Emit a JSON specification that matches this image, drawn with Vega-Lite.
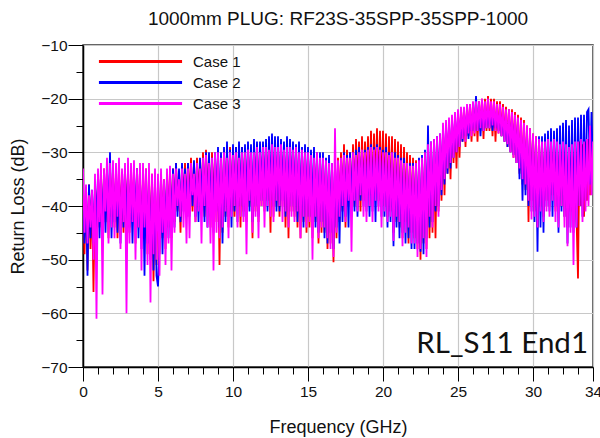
{
"$schema":"https://vega.github.io/schema/vega-lite/v6.json",
"width":510,"height":322,
"autosize":{"type":"none"},
"padding":{"left":83,"top":45,"right":7,"bottom":71},
"background":"white",
"title":{"text":"1000mm PLUG: RF23S-35SPP-35SPP-1000","fontSize":19,"font":"Liberation Sans","fontWeight":"normal","color":"#111","anchor":"middle","frame":"group","offset":9},
"config":{"view":{"stroke":"#333","strokeWidth":1.5},"font":"Liberation Sans"},
"resolve":{"axis":{"x":"independent","y":"independent"}},
"layer":[
{"data":{"values":[
{"f":0,"a":-36,"b":-38,"c":-33},{"f":0.1,"a":-49,"b":-47,"c":-45},{"f":0.2,"a":-37,"b":-37,"c":-36},{"f":0.3,"a":-52,"b":-53,"c":-47},{"f":0.4,"a":-36,"b":-36,"c":-38},{"f":0.5,"a":-48,"b":-46,"c":-44},{"f":0.6,"a":-37,"b":-37,"c":-37},{"f":0.7,"a":-56,"b":-47,"c":-50},{"f":0.8,"a":-36,"b":-36,"c":-34},{"f":0.9,"a":-45,"b":-44,"c":-61},
{"f":1,"a":-35,"b":-34,"c":-33},{"f":1.1,"a":-44,"b":-46,"c":-43},{"f":1.2,"a":-34,"b":-34,"c":-32},{"f":1.3,"a":-47,"b":-44,"c":-56.5},{"f":1.4,"a":-33,"b":-35,"c":-33},{"f":1.5,"a":-43,"b":-45,"c":-41},{"f":1.6,"a":-34,"b":-33,"c":-31},{"f":1.7,"a":-46,"b":-43,"c":-47},{"f":1.8,"a":-33,"b":-30,"c":-32},{"f":1.9,"a":-42,"b":-46,"c":-44},
{"f":2,"a":-33,"b":-35,"c":-31.5},{"f":2.1,"a":-44,"b":-43,"c":-46},{"f":2.2,"a":-34,"b":-34,"c":-32},{"f":2.3,"a":-46,"b":-45,"c":-42},{"f":2.4,"a":-33,"b":-35,"c":-31},{"f":2.5,"a":-42,"b":-47,"c":-48},{"f":2.6,"a":-35,"b":-34,"c":-33},{"f":2.7,"a":-45,"b":-44,"c":-43},{"f":2.8,"a":-33,"b":-33,"c":-32},{"f":2.9,"a":-43,"b":-45,"c":-60},
{"f":3,"a":-34,"b":-34,"c":-31},{"f":3.1,"a":-45,"b":-44,"c":-47},{"f":3.2,"a":-33,"b":-35,"c":-32},{"f":3.3,"a":-42,"b":-47,"c":-43},{"f":3.4,"a":-34,"b":-34,"c":-31.5},{"f":3.5,"a":-47,"b":-43,"c":-50},{"f":3.6,"a":-33,"b":-33,"c":-33},{"f":3.7,"a":-44,"b":-46,"c":-44},{"f":3.8,"a":-35,"b":-35,"c":-32},{"f":3.9,"a":-46,"b":-48,"c":-52},
{"f":4,"a":-34,"b":-35,"c":-32},{"f":4.1,"a":-46,"b":-53,"c":-44},{"f":4.2,"a":-33,"b":-34,"c":-33},{"f":4.3,"a":-49,"b":-47,"c":-51},{"f":4.4,"a":-35,"b":-36,"c":-32},{"f":4.5,"a":-48,"b":-50,"c":-58},{"f":4.6,"a":-34,"b":-35,"c":-34},{"f":4.7,"a":-54,"b":-52,"c":-49},{"f":4.8,"a":-36,"b":-35,"c":-33},{"f":4.9,"a":-51,"b":-53,"c":-50},
{"f":5,"a":-35,"b":-55,"c":-34},{"f":5.1,"a":-49,"b":-47,"c":-53},{"f":5.2,"a":-34,"b":-34,"c":-33},{"f":5.3,"a":-46,"b":-49,"c":-45},{"f":5.4,"a":-35,"b":-36,"c":-35},{"f":5.5,"a":-48,"b":-45,"c":-51},{"f":5.6,"a":-34,"b":-34,"c":-33},{"f":5.7,"a":-44,"b":-46,"c":-47},{"f":5.8,"a":-33,"b":-35,"c":-32.5},{"f":5.9,"a":-46,"b":-44,"c":-52},
{"f":6,"a":-33,"b":-33,"c":-34},{"f":6.1,"a":-43,"b":-44,"c":-45},{"f":6.2,"a":-32,"b":-32,"c":-33},{"f":6.3,"a":-41,"b":-42,"c":-40},{"f":6.4,"a":-34,"b":-33,"c":-35},{"f":6.5,"a":-45,"b":-43,"c":-42},{"f":6.6,"a":-33,"b":-32,"c":-33},{"f":6.7,"a":-40,"b":-41,"c":-44},{"f":6.8,"a":-32,"b":-33,"c":-34},{"f":6.9,"a":-42,"b":-42,"c":-47},
{"f":7,"a":-32,"b":-32,"c":-33},{"f":7.1,"a":-40,"b":-42,"c":-46},{"f":7.2,"a":-31,"b":-33,"c":-32},{"f":7.3,"a":-41,"b":-40,"c":-38},{"f":7.4,"a":-32,"b":-31.5,"c":-34},{"f":7.5,"a":-43,"b":-42,"c":-43},{"f":7.6,"a":-31,"b":-32,"c":-32},{"f":7.7,"a":-39,"b":-43,"c":-41},{"f":7.8,"a":-32,"b":-31,"c":-33},{"f":7.9,"a":-41,"b":-40,"c":-47},
{"f":8,"a":-30,"b":-31,"c":-31},{"f":8.1,"a":-42,"b":-43,"c":-40},{"f":8.2,"a":-29.5,"b":-30,"c":-30.5},{"f":8.3,"a":-40,"b":-44,"c":-44},{"f":8.4,"a":-31,"b":-30,"c":-32},{"f":8.5,"a":-44,"b":-42,"c":-47},{"f":8.6,"a":-30,"b":-31,"c":-31},{"f":8.7,"a":-41,"b":-45,"c":-52},{"f":8.8,"a":-31,"b":-30,"c":-30},{"f":8.9,"a":-43,"b":-41,"c":-45},
{"f":9,"a":-30,"b":-29,"c":-30},{"f":9.1,"a":-51,"b":-44,"c":-46},{"f":9.2,"a":-31,"b":-30,"c":-31},{"f":9.3,"a":-45,"b":-47,"c":-44},{"f":9.4,"a":-29.5,"b":-29,"c":-30},{"f":9.5,"a":-42,"b":-43,"c":-41},{"f":9.6,"a":-30,"b":-28,"c":-31},{"f":9.7,"a":-44,"b":-42,"c":-46},{"f":9.8,"a":-29,"b":-29.5,"c":-30},{"f":9.9,"a":-41,"b":-44,"c":-42},
{"f":10,"a":-30,"b":-28.5,"c":-30.5},{"f":10.1,"a":-42,"b":-41,"c":-40},{"f":10.2,"a":-29,"b":-29,"c":-30},{"f":10.3,"a":-40,"b":-43,"c":-44},{"f":10.4,"a":-30,"b":-28,"c":-31},{"f":10.5,"a":-44,"b":-40,"c":-42},{"f":10.6,"a":-29,"b":-29,"c":-30},{"f":10.7,"a":-41,"b":-42,"c":-43},{"f":10.8,"a":-30,"b":-28.5,"c":-30},{"f":10.9,"a":-43,"b":-41,"c":-49},
{"f":11,"a":-29,"b":-28,"c":-29.5},{"f":11.1,"a":-40,"b":-41,"c":-39},{"f":11.2,"a":-30,"b":-28.5,"c":-30},{"f":11.3,"a":-46,"b":-43,"c":-45},{"f":11.4,"a":-29,"b":-27.5,"c":-30},{"f":11.5,"a":-41,"b":-40,"c":-42},{"f":11.6,"a":-28.5,"b":-28,"c":-29},{"f":11.7,"a":-43,"b":-42,"c":-46},{"f":11.8,"a":-29.5,"b":-28,"c":-30},{"f":11.9,"a":-40,"b":-39,"c":-40},
{"f":12,"a":-29,"b":-28,"c":-29},{"f":12.1,"a":-41,"b":-40,"c":-44},{"f":12.2,"a":-28.5,"b":-27.5,"c":-29},{"f":12.3,"a":-39,"b":-41,"c":-40},{"f":12.4,"a":-29,"b":-27,"c":-29.5},{"f":12.5,"a":-45,"b":-39,"c":-42},{"f":12.6,"a":-28,"b":-26.5,"c":-28.5},{"f":12.7,"a":-42,"b":-40,"c":-43},{"f":12.8,"a":-29,"b":-27,"c":-29},{"f":12.9,"a":-40,"b":-41,"c":-39},
{"f":13,"a":-29,"b":-27,"c":-29},{"f":13.1,"a":-42,"b":-41,"c":-40},{"f":13.2,"a":-28.5,"b":-27.5,"c":-28.5},{"f":13.3,"a":-40,"b":-39,"c":-43},{"f":13.4,"a":-29,"b":-28,"c":-29.5},{"f":13.5,"a":-44,"b":-42,"c":-41},{"f":13.6,"a":-29,"b":-27,"c":-29},{"f":13.7,"a":-46,"b":-41,"c":-44},{"f":13.8,"a":-28.5,"b":-27.5,"c":-29},{"f":13.9,"a":-41,"b":-40,"c":-42},
{"f":14,"a":-29.5,"b":-28,"c":-29.5},{"f":14.1,"a":-42,"b":-41,"c":-43},{"f":14.2,"a":-29,"b":-28.5,"c":-29},{"f":14.3,"a":-44,"b":-43,"c":-41},{"f":14.4,"a":-30,"b":-28,"c":-30},{"f":14.5,"a":-46,"b":-42,"c":-46},{"f":14.6,"a":-29.5,"b":-29,"c":-29.5},{"f":14.7,"a":-43,"b":-44,"c":-42},{"f":14.8,"a":-30,"b":-28.5,"c":-30},{"f":14.9,"a":-45,"b":-42,"c":-44},
{"f":15,"a":-30,"b":-29,"c":-30},{"f":15.1,"a":-44,"b":-42,"c":-43},{"f":15.2,"a":-30.5,"b":-29.5,"c":-30.5},{"f":15.3,"a":-46,"b":-43,"c":-50},{"f":15.4,"a":-31,"b":-29,"c":-31},{"f":15.5,"a":-43,"b":-44,"c":-42},{"f":15.6,"a":-30.5,"b":-30,"c":-30},{"f":15.7,"a":-47,"b":-45,"c":-46},{"f":15.8,"a":-31,"b":-30,"c":-31},{"f":15.9,"a":-45,"b":-43,"c":-44},
{"f":16,"a":-31,"b":-30,"c":-31},{"f":16.1,"a":-45,"b":-46,"c":-44},{"f":16.2,"a":-32,"b":-31,"c":-31.5},{"f":16.3,"a":-48,"b":-47,"c":-46},{"f":16.4,"a":-32,"b":-30.5,"c":-32},{"f":16.5,"a":-47,"b":-45,"c":-48},{"f":16.6,"a":-33,"b":-32,"c":-32},{"f":16.7,"a":-50.5,"b":-48,"c":-49.5},{"f":16.8,"a":-32,"b":-32,"c":-25.5},{"f":16.9,"a":-46,"b":-44,"c":-45},
{"f":17,"a":-31,"b":-32,"c":-31.5},{"f":17.1,"a":-43,"b":-47,"c":-42},{"f":17.2,"a":-30,"b":-31,"c":-31},{"f":17.3,"a":-41,"b":-43,"c":-40},{"f":17.4,"a":-28.5,"b":-30,"c":-30.5},{"f":17.5,"a":-44,"b":-42,"c":-43},{"f":17.6,"a":-29.5,"b":-30.5,"c":-31},{"f":17.7,"a":-40,"b":-44,"c":-39},{"f":17.8,"a":-30,"b":-30,"c":-31},{"f":17.9,"a":-42,"b":-41,"c":-48.5},
{"f":18,"a":-28.5,"b":-30,"c":-30},{"f":18.1,"a":-40,"b":-41,"c":-39},{"f":18.2,"a":-27.5,"b":-29.5,"c":-30.5},{"f":18.3,"a":-38,"b":-42,"c":-41},{"f":18.4,"a":-28,"b":-29,"c":-30},{"f":18.5,"a":-41,"b":-39,"c":-38},{"f":18.6,"a":-27,"b":-30,"c":-29.5},{"f":18.7,"a":-39,"b":-40,"c":-42},{"f":18.8,"a":-28,"b":-29.5,"c":-30},{"f":18.9,"a":-37,"b":-41,"c":-43},
{"f":19,"a":-27,"b":-29,"c":-29.5},{"f":19.1,"a":-38,"b":-42,"c":-40},{"f":19.2,"a":-26,"b":-28.5,"c":-29},{"f":19.3,"a":-40,"b":-41,"c":-43},{"f":19.4,"a":-26.5,"b":-29,"c":-29.5},{"f":19.5,"a":-37,"b":-43,"c":-39},{"f":19.6,"a":-25.5,"b":-28.5,"c":-29},{"f":19.7,"a":-39,"b":-40,"c":-41},{"f":19.8,"a":-26,"b":-29,"c":-29.5},{"f":19.9,"a":-38,"b":-42,"c":-44},
{"f":20,"a":-26,"b":-29.5,"c":-30},{"f":20.1,"a":-40,"b":-42,"c":-41},{"f":20.2,"a":-26.5,"b":-29,"c":-30},{"f":20.3,"a":-42,"b":-44,"c":-43},{"f":20.4,"a":-27,"b":-30,"c":-30.5},{"f":20.5,"a":-41,"b":-43,"c":-42},{"f":20.6,"a":-27,"b":-30,"c":-30},{"f":20.7,"a":-45,"b":-47.5,"c":-46.5},{"f":20.8,"a":-27.5,"b":-30,"c":-31},{"f":20.9,"a":-43,"b":-44,"c":-42},
{"f":21,"a":-28,"b":-30.5,"c":-31},{"f":21.1,"a":-44,"b":-46,"c":-43},{"f":21.2,"a":-28.5,"b":-31,"c":-31.5},{"f":21.3,"a":-46,"b":-45,"c":-47.5},{"f":21.4,"a":-29,"b":-31,"c":-32},{"f":21.5,"a":-43,"b":-47,"c":-45},{"f":21.6,"a":-30,"b":-32,"c":-32},{"f":21.7,"a":-47,"b":-46,"c":-44},{"f":21.8,"a":-30.5,"b":-32,"c":-32.5},{"f":21.9,"a":-45,"b":-48,"c":-47},
{"f":22,"a":-31,"b":-32,"c":-32.5},{"f":22.1,"a":-46,"b":-48,"c":-47},{"f":22.2,"a":-31.5,"b":-32,"c":-32},{"f":22.3,"a":-48,"b":-47,"c":-49.5},{"f":22.4,"a":-32,"b":-31,"c":-31.5},{"f":22.5,"a":-50,"b":-48.5,"c":-48},{"f":22.6,"a":-31,"b":-30.5,"c":-31},{"f":22.7,"a":-47,"b":-49,"c":-46},{"f":22.8,"a":-30,"b":-29.5,"c":-30},{"f":22.9,"a":-48,"b":-46,"c":-49.5},
{"f":23,"a":-29,"b":-25,"c":-28.5},{"f":23.1,"a":-46,"b":-44,"c":-42},{"f":23.2,"a":-28.5,"b":-28,"c":-28},{"f":23.3,"a":-45,"b":-43,"c":-44},{"f":23.4,"a":-28,"b":-27.5,"c":-27.5},{"f":23.5,"a":-46,"b":-41,"c":-40},{"f":23.6,"a":-28,"b":-27,"c":-27},{"f":23.7,"a":-41,"b":-40,"c":-42},{"f":23.8,"a":-27.5,"b":-26.5,"c":-26.5},{"f":23.9,"a":-39,"b":-38,"c":-37},
{"f":24,"a":-26,"b":-25.5,"c":-24.5},{"f":24.1,"a":-38,"b":-36,"c":-35},{"f":24.2,"a":-25.5,"b":-25,"c":-24},{"f":24.3,"a":-34,"b":-34,"c":-33},{"f":24.4,"a":-25,"b":-24.5,"c":-23.5},{"f":24.5,"a":-35,"b":-33,"c":-32},{"f":24.6,"a":-24.5,"b":-24,"c":-23},{"f":24.7,"a":-32,"b":-31,"c":-31},{"f":24.8,"a":-24,"b":-23.5,"c":-22.5},{"f":24.9,"a":-33,"b":-30,"c":-30},
{"f":25,"a":-22.5,"b":-23,"c":-22},{"f":25.1,"a":-31,"b":-29,"c":-29},{"f":25.2,"a":-22,"b":-23,"c":-21.5},{"f":25.3,"a":-28,"b":-28,"c":-27.5},{"f":25.4,"a":-22,"b":-22.5,"c":-21.5},{"f":25.5,"a":-29,"b":-27,"c":-28},{"f":25.6,"a":-21.5,"b":-22.5,"c":-21},{"f":25.7,"a":-27,"b":-27.5,"c":-26.5},{"f":25.8,"a":-21,"b":-22.5,"c":-21},{"f":25.9,"a":-28,"b":-26,"c":-27},
{"f":26,"a":-21,"b":-22,"c":-20.5},{"f":26.1,"a":-27,"b":-26,"c":-26.5},{"f":26.2,"a":-20.5,"b":-19.5,"c":-20.5},{"f":26.3,"a":-28,"b":-26,"c":-26},{"f":26.4,"a":-20.5,"b":-22,"c":-20.5},{"f":26.5,"a":-26,"b":-27,"c":-25.5},{"f":26.6,"a":-20,"b":-21.5,"c":-20},{"f":26.7,"a":-27.5,"b":-26,"c":-26},{"f":26.8,"a":-20,"b":-22,"c":-20.5},{"f":26.9,"a":-26,"b":-25.5,"c":-25.5},
{"f":27,"a":-19.5,"b":-22,"c":-20},{"f":27.1,"a":-26,"b":-25.5,"c":-25.5},{"f":27.2,"a":-20,"b":-22.5,"c":-20.5},{"f":27.3,"a":-27,"b":-26,"c":-25},{"f":27.4,"a":-20,"b":-22,"c":-20.5},{"f":27.5,"a":-28,"b":-25.5,"c":-26},{"f":27.6,"a":-20.5,"b":-22.5,"c":-21},{"f":27.7,"a":-26.5,"b":-26,"c":-26.5},{"f":27.8,"a":-20.5,"b":-22.5,"c":-21},{"f":27.9,"a":-27,"b":-27,"c":-27},
{"f":28,"a":-21,"b":-23,"c":-21.5},{"f":28.1,"a":-28,"b":-28,"c":-28},{"f":28.2,"a":-21.5,"b":-23.5,"c":-22},{"f":28.3,"a":-29,"b":-29,"c":-28.5},{"f":28.4,"a":-22,"b":-23.5,"c":-22},{"f":28.5,"a":-30,"b":-30,"c":-30},{"f":28.6,"a":-22,"b":-24,"c":-22.5},{"f":28.7,"a":-31,"b":-30.5,"c":-31},{"f":28.8,"a":-22.5,"b":-24,"c":-23},{"f":28.9,"a":-32,"b":-32,"c":-32},
{"f":29,"a":-23,"b":-25,"c":-23.5},{"f":29.1,"a":-34,"b":-35,"c":-33},{"f":29.2,"a":-23.5,"b":-25.5,"c":-24},{"f":29.3,"a":-36,"b":-39,"c":-35},{"f":29.4,"a":-24,"b":-26,"c":-24.5},{"f":29.5,"a":-37,"b":-38,"c":-36},{"f":29.6,"a":-25,"b":-26,"c":-25},{"f":29.7,"a":-43,"b":-40,"c":-39},{"f":29.8,"a":-25.5,"b":-26.5,"c":-25.5},{"f":29.9,"a":-39,"b":-41,"c":-42.5},
{"f":30,"a":-26.5,"b":-27,"c":-26.5},{"f":30.1,"a":-41,"b":-43,"c":-42},{"f":30.2,"a":-27,"b":-27.5,"c":-27},{"f":30.3,"a":-44,"b":-48.5,"c":-44},{"f":30.4,"a":-27.5,"b":-27,"c":-27.5},{"f":30.5,"a":-40,"b":-44,"c":-41},{"f":30.6,"a":-28,"b":-27,"c":-28},{"f":30.7,"a":-42,"b":-45,"c":-43},{"f":30.8,"a":-28,"b":-26.5,"c":-28},{"f":30.9,"a":-39,"b":-40,"c":-41},
{"f":31,"a":-28,"b":-26,"c":-27.5},{"f":31.1,"a":-40,"b":-41,"c":-42},{"f":31.2,"a":-28.5,"b":-25.5,"c":-28},{"f":31.3,"a":-38,"b":-42,"c":-39},{"f":31.4,"a":-28,"b":-26,"c":-27.5},{"f":31.5,"a":-41,"b":-40,"c":-43},{"f":31.6,"a":-29,"b":-25.5,"c":-28},{"f":31.7,"a":-39,"b":-45,"c":-44},{"f":31.8,"a":-28.5,"b":-25,"c":-28.5},{"f":31.9,"a":-40,"b":-41,"c":-40},
{"f":32,"a":-28.5,"b":-24.5,"c":-28},{"f":32.1,"a":-42,"b":-42,"c":-44},{"f":32.2,"a":-28,"b":-24,"c":-28.5},{"f":32.3,"a":-44,"b":-47,"c":-47.5},{"f":32.4,"a":-29,"b":-25,"c":-29},{"f":32.5,"a":-41,"b":-44,"c":-45},{"f":32.6,"a":-28.5,"b":-24,"c":-28.5},{"f":32.7,"a":-43,"b":-45,"c":-51},{"f":32.8,"a":-28,"b":-23.5,"c":-28},{"f":32.9,"a":-42,"b":-44,"c":-44},
{"f":33,"a":-53.5,"b":-23.5,"c":-28},{"f":33.1,"a":-28,"b":-40,"c":-40},{"f":33.2,"a":-40,"b":-23,"c":-27.5},{"f":33.3,"a":-28.5,"b":-42,"c":-43},{"f":33.4,"a":-42,"b":-23,"c":-28},{"f":33.5,"a":-28,"b":-39,"c":-41},{"f":33.6,"a":-39,"b":-22.5,"c":-27.5},{"f":33.7,"a":-27.5,"b":-22,"c":-40},{"f":33.8,"a":-38,"b":-36,"c":-25},{"f":33.9,"a":-27,"b":-22.5,"c":-38},
{"f":34,"a":-30,"b":-33,"c":-28}
]},
"transform":[{"fold":["a","b","c"],"as":["k","v"]}],
"mark":{"type":"line","strokeWidth":1.8,"clip":true},
"encoding":{
"x":{"field":"f","type":"quantitative","scale":{"domain":[0,34],"nice":false,"zero":false},
"axis":{"orient":"bottom","values":[0,5,10,15,20,25,30,34],"title":"Frequency (GHz)","titleFontSize":18,"titleFontWeight":"normal","titleColor":"#111","titlePadding":19,"labelFontSize":15.5,"labelColor":"#111","labelPadding":3,"labelFlush":false,"tickSize":14,"tickColor":"black","domainColor":"black","domainWidth":1.5,"grid":true,"gridColor":"#c8c8c8","gridWidth":1.2,"zindex":0}},
"y":{"field":"v","type":"quantitative","scale":{"domain":[-70,-10],"nice":false,"zero":false},
"axis":{"orient":"left","values":[-10,-20,-30,-40,-50,-60,-70],"title":"Return Loss (dB)","titleFontSize":18,"titleFontWeight":"normal","titleColor":"#111","titlePadding":13,"labelFontSize":15.5,"labelColor":"#111","labelPadding":1,"tickSize":15,"tickColor":"black","domainColor":"black","domainWidth":1.5,"grid":true,"gridColor":"#c8c8c8","gridWidth":1.2,"zindex":0}},
"color":{"field":"k","type":"nominal","scale":{"domain":["a","b","c"],"range":["#ff0000","#0000ff","#ff00ff"]},
"legend":{"orient":"none","legendX":50,"legendY":9,"padding":0,"title":null,"symbolType":"M-8,0H8","symbolSize":108,"symbolStrokeWidth":3,"labelFontSize":15,"labelFont":"Liberation Sans","labelColor":"#111","labelOffset":45,"rowPadding":5,"labelExpr":"datum.label == 'a' ? 'Case 1' : datum.label == 'b' ? 'Case 2' : 'Case 3'"}}
}},
{"data":{"values":[{"f":0,"v":-40}]},
"mark":{"type":"point","opacity":0},
"encoding":{
"x":{"field":"f","type":"quantitative","axis":{"orient":"bottom","values":[1,2,3,4,6,7,8,9,11,12,13,14,16,17,18,19,21,22,23,24,26,27,28,29,31,32,33],"labels":false,"domain":false,"grid":false,"title":null,"tickSize":7,"tickColor":"black"}},
"y":{"field":"v","type":"quantitative","axis":{"orient":"left","values":[-15,-25,-35,-45,-55,-65],"labels":false,"domain":false,"grid":false,"title":null,"tickSize":7,"tickColor":"black"}}
}},
{"data":{"values":[{}]},
"mark":{"type":"text","align":"right","baseline":"alphabetic","font":"Lato","fontSize":29.5,"dx":-5,"color":"#111"},
"encoding":{
"x":{"datum":34,"type":"quantitative","axis":null},
"y":{"datum":-67.4,"type":"quantitative","axis":null},
"text":{"value":"RL_S11 End1"}
}}
]
}
